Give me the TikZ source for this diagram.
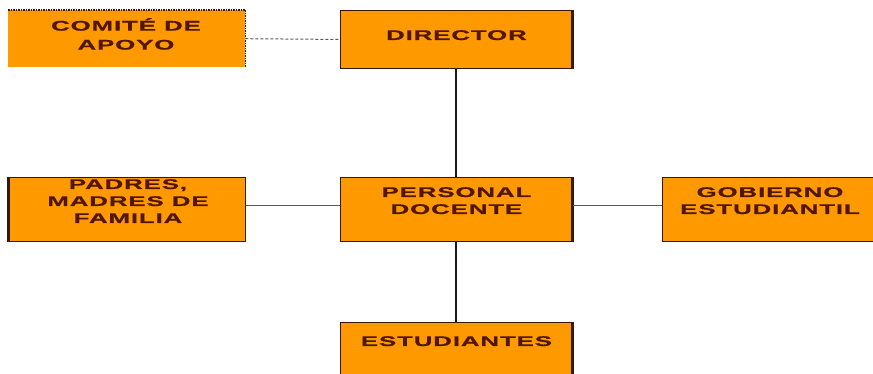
\documentclass[tikz,border=0pt]{standalone}
\usepackage{fontspec}
\newfontfamily\bxfont{Liberation Sans}[FakeStretch=1.85,LetterSpace=6,FakeBold=0.6]
\definecolor{boxorange}{RGB}{255,153,0}
\definecolor{boxedge}{RGB}{50,25,10}
\definecolor{txtbrown}{RGB}{80,22,0}
\definecolor{linegrey}{RGB}{90,90,90}
\tikzset{
  orgbox/.style={fill=boxorange, draw=boxedge, line width=0.9pt, inner sep=0pt, anchor=north west},
  plainbox/.style={fill=boxorange, draw=none, inner sep=0pt, anchor=north west},
  thickside/.style={draw=boxedge, line width=3pt},
  dotside/.style={draw=boxedge, line width=1.5pt, dash pattern=on 1.5pt off 1pt},
  lbl/.style={inner sep=0pt, anchor=north, align=center, text=txtbrown,
    font=\bxfont\bfseries\fontsize{14}{17}\selectfont},
  vlink/.style={draw=black!90, line width=2pt},
  hlink/.style={draw=linegrey, line width=1pt},
  dlink/.style={draw=linegrey, line width=1pt, dash pattern=on 3pt off 2pt}
}
\begin{document}
\begin{tikzpicture}[x=1pt,y=-1pt]
\useasboundingbox (0,0) rectangle (873,373);
\clip (0,0) rectangle (873,373);
\fill[white] (0,0) rectangle (873,373);
% boxes
\node[plainbox, minimum width=237pt, minimum height=57pt] (com) at (8,10) {};
\node[orgbox, minimum width=232pt, minimum height=58pt] (dir) at (340,10) {};
\node[orgbox, minimum width=237pt, minimum height=64pt] (pad) at (8,177) {};
\node[orgbox, minimum width=232pt, minimum height=64pt] (per) at (340,177) {};
\node[orgbox, minimum width=222pt, minimum height=64pt] (gob) at (662,177) {};
\node[orgbox, minimum width=232pt, minimum height=64pt] (est) at (340,322) {};
% special borders
\draw[dotside] (com.north west) -- (com.north east) -- (com.south east);
\draw[thickside] (dir.north east) -- (dir.south east);
\draw[thickside] (per.north east) -- (per.south east);
\draw[thickside] (est.north east) -- (est.south east);
\draw[thickside] (pad.north west) -- (pad.south west);
% connectors
\draw[dlink] (com.east) -- (dir.west);
\draw[vlink] (dir.south) -- (per.north);
\draw[vlink] (per.south) -- (est.north);
\draw[hlink] ([yshift=4pt]pad.east) -- ([yshift=4pt]per.west);
\draw[hlink] ([yshift=4pt]per.east) -- ([yshift=4pt]gob.west);
% labels
\node[lbl, font=\bxfont\bfseries\fontsize{14}{19}\selectfont] (tcom) at (126,18) {COMITÉ DE\\APOYO};
\node[lbl] (tdir) at ([yshift=-20pt]dir.north) {DIRECTOR};
\node[lbl] (tpad) at (128,179) {PADRES,\\MADRES DE\\FAMILIA};
\node[lbl] (tper) at ([yshift=-10pt]per.north) {PERSONAL\\DOCENTE};
\node[lbl] (tgob) at (770,187) {GOBIERNO\\ESTUDIANTIL};
\node[lbl] (test) at ([yshift=-14pt]est.north) {ESTUDIANTES};
\end{tikzpicture}
\end{document}
